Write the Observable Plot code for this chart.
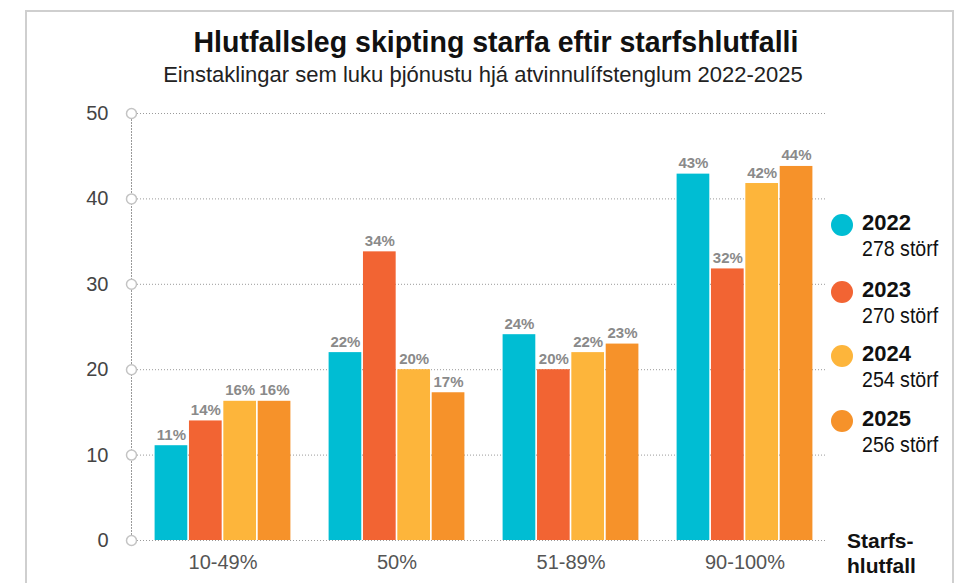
<!DOCTYPE html>
<html>
<head>
<meta charset="utf-8">
<script src="https://cdn.jsdelivr.net/npm/d3@7"></script>
<script src="https://cdn.jsdelivr.net/npm/@observablehq/plot@0.6"></script>
<style>
  html, body { margin: 0; padding: 0; background: #fff; }
  #wrap { position: relative; width: 969px; height: 583px; overflow: hidden; font-family: "Liberation Sans", Arial, sans-serif; }
  #frame { position: absolute; left: 25px; top: 10px; width: 929px; height: 600px; border: 2px solid #cfcfcf; border-bottom: none; box-sizing: border-box; }
  #title { position: absolute; left: 0; width: 992px; top: 26.6px; text-align: center; font-family: "Liberation Sans", Arial, sans-serif; font-weight: bold; font-size: 30px; line-height: 30px; color: #111; white-space: nowrap; transform: scaleX(0.95); transform-origin: 496px 0; }
  #subtitle { position: absolute; left: 0; width: 966px; top: 64.4px; text-align: center; font-family: "Liberation Sans", Arial, sans-serif; font-size: 22px; line-height: 22px; color: #222; white-space: nowrap; }
  #chart { position: absolute; left: 0; top: 95px; }
  .lg-dot { position: absolute; width: 22px; height: 22px; border-radius: 50%; }
  .lg-year { position: absolute; font-weight: bold; font-size: 22px; line-height: 22px; color: #111; }
  .lg-sub { position: absolute; font-size: 22px; line-height: 22px; color: #111; white-space: nowrap; transform: scaleX(0.89); transform-origin: 0 0; }
  #xname { position: absolute; left: 847px; top: 528px; font-weight: bold; font-size: 21px; line-height: 25px; color: #111; }
  #chart g[aria-label="x-axis tick label"] { fill: #555; }
</style>
</head>
<body>
<div id="wrap">
  <div id="frame"></div>
  <div id="title">Hlutfallsleg skipting starfa eftir starfshlutfalli</div>
  <div id="subtitle">Einstaklingar sem luku þjónustu hjá atvinnulífstenglum 2022-2025</div>
  <div id="chart"></div>
  <div id="legend"></div>
  <div id="xname">Starfs-<br>hlutfall</div>
</div>
<script>
const categories = ["10-49%", "50%", "51-89%", "90-100%"];
const years = ["2022", "2023", "2024", "2025"];
const jobCounts = [278, 270, 254, 256];
const colors = ["#00bdd3", "#f26433", "#fdb53b", "#f6922a"];
const values2022 = [11.1, 22.0, 24.1, 42.9];
const values2023 = [14.0, 33.8, 20.0, 31.8];
const values2024 = [16.3, 20.0, 22.0, 41.8];
const values2025 = [16.3, 17.3, 23.0, 43.8];
const yTicks = [0, 10, 20, 30, 40, 50];

const seriesValues = [values2022, values2023, values2024, values2025];
const data = years.flatMap((yr, i) => categories.map((c, j) => ({year: yr, cat: c, value: seriesValues[i][j]})));

const width = 969, height = 488;
const marginLeft = 131, marginRight = 142;
const padInner = 0.21, padOuter = 0.105;
const step = (width - marginLeft - marginRight) / (categories.length - padInner + 2 * padOuter);
const q = step * (1 - padInner) / years.length;

const barMarks = years.flatMap((yr, i) => {
  const sub = data.filter(d => d.year === yr);
  return [
    Plot.barY(sub, {x: "cat", y: "value", fill: colors[i], insetLeft: i * q + 0.6, insetRight: (years.length - 1 - i) * q + 0.6}),
    Plot.text(sub, {x: "cat", y: "value", text: d => Math.round(d.value) + "%", dx: (i - 1.5) * q, dy: -6, lineAnchor: "bottom", fontWeight: "bold", fontSize: 15, fill: "#8a8a8a"})
  ];
});

const plot = Plot.plot({
  width, height,
  marginTop: 18, marginBottom: 43, marginLeft, marginRight,
  style: {fontFamily: "Liberation Sans, Arial, sans-serif", fontSize: "20px", color: "#444", background: "transparent", overflow: "visible"},
  x: {domain: categories, paddingInner: padInner, paddingOuter: padOuter, align: 0.63, label: null, tickSize: 0, tickPadding: 14},
  y: {domain: [0, 50], ticks: yTicks, label: null, tickSize: 0, tickPadding: 23},
  marks: [
    Plot.ruleY(yTicks, {stroke: "#9a9a9a", strokeDasharray: "1,2", strokeWidth: 1}),
    Plot.frame({anchor: "left", stroke: "#9a9a9a", strokeDasharray: "1,2", strokeWidth: 1}),
    ...barMarks,
    Plot.dot(yTicks, {y: d => d, frameAnchor: "left", r: 5, fill: "white", stroke: "#c4c4c4", strokeWidth: 1.5})
  ]
});
document.getElementById("chart").appendChild(plot);

const legend = document.getElementById("legend");
const centers = [225, 292, 356, 421];
years.forEach((yr, i) => {
  const cy = centers[i];
  const dot = document.createElement("div");
  dot.className = "lg-dot";
  dot.style.left = (842 - 11) + "px";
  dot.style.top = (cy - 11) + "px";
  dot.style.background = colors[i];
  legend.appendChild(dot);
  const y = document.createElement("div");
  y.className = "lg-year";
  y.style.left = "862px";
  y.style.top = (cy - 12.6) + "px";
  y.textContent = yr;
  legend.appendChild(y);
  const s = document.createElement("div");
  s.className = "lg-sub";
  s.style.left = "862px";
  s.style.top = (cy + 13.4) + "px";
  s.textContent = jobCounts[i] + " störf";
  legend.appendChild(s);
});
</script>
</body>
</html>
